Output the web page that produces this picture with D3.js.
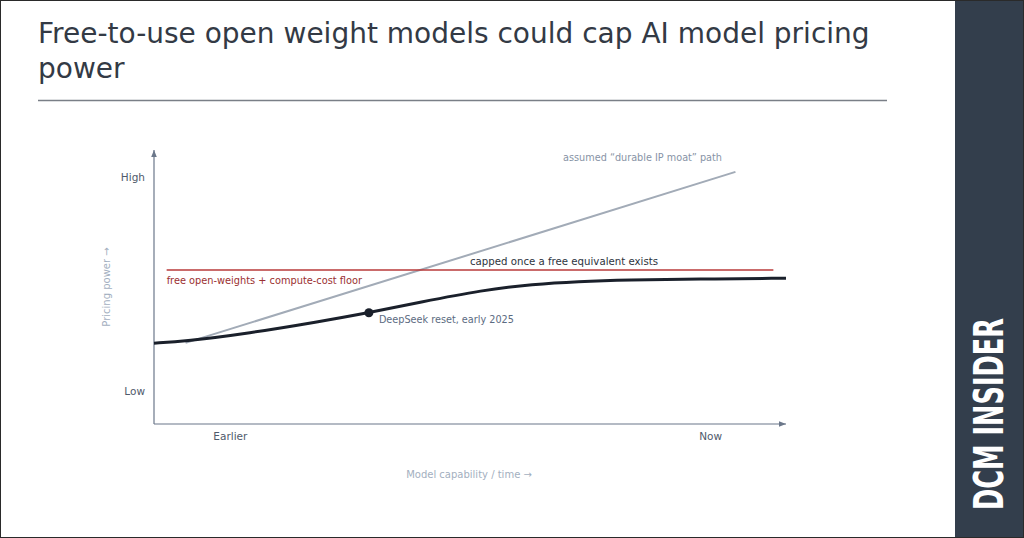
<!DOCTYPE html>
<html>
<head>
<meta charset="utf-8">
<script src="https://cdn.jsdelivr.net/npm/d3@7"></script>
<style>
  html, body { margin: 0; padding: 0; background: #fff; }
  svg { display: block; }
</style>
</head>
<body>
<svg id="chart"></svg>
<script>
var width = 1024;
var height = 538;

// data
var titleLines = ["Free-to-use open weight models could cap AI model pricing", "power"];
var xTickValues = [12, 88];
var xTickLabels = ["Earlier", "Now"];
var yTickValues = [12, 90];
var yTickLabels = ["Low", "High"];

var curveX = [0, 5, 15, 26, 34, 42, 52, 60, 67, 75, 86, 100];
var curveY = [29.5, 30.2, 33.1, 37.3, 40.6, 44.4, 48.9, 51.0, 52.0, 52.6, 52.9, 53.2];
var moatX = [5, 92];
var moatY = [29.6, 92];
var capX = [2, 98];
var capY = [56.2, 56.2];
var resetX = [34];
var resetY = [40.6];

var svg = d3.select("#chart").attr("width", width).attr("height", height);

// frame + side panel
svg.append("rect").attr("x", 0).attr("y", 0).attr("width", width).attr("height", height).attr("fill", "#fff");
svg.append("rect").attr("x", 955).attr("y", 0).attr("width", 69).attr("height", height).attr("fill", "#333e4c");
svg.append("rect").attr("x", 0.5).attr("y", 0.5).attr("width", width - 1).attr("height", height - 1)
    .attr("fill", "none").attr("stroke", "#2a2a2a").attr("stroke-width", 1);

svg.append("text")
    .attr("transform", "translate(1003,414) rotate(-90)")
    .attr("text-anchor", "middle")
    .attr("font-family", "'DejaVu Sans Condensed', 'DejaVu Sans'")
    .attr("font-weight", "bold")
    .attr("font-size", 40)
    .attr("textLength", 192)
    .attr("lengthAdjust", "spacingAndGlyphs")
    .attr("fill", "#fff")
    .text("DCM INSIDER");

// title
svg.selectAll("text.title").data(titleLines).enter().append("text")
    .attr("class", "title")
    .attr("x", 38)
    .attr("y", (d, i) => 43 + i * 35)
    .attr("font-family", "'DejaVu Sans', sans-serif")
    .attr("font-size", 28)
    .attr("fill", "#333a45")
    .text(d => d);

svg.append("line").attr("x1", 38).attr("x2", 887).attr("y1", 100.5).attr("y2", 100.5)
    .attr("stroke", "#7a7f87").attr("stroke-width", 1.5);

//----------------------------------------------------------------------------------------------------------------------
// scales
//----------------------------------------------------------------------------------------------------------------------
var x = d3.scaleLinear().domain([0, 100]).range([154, 786]);
var y = d3.scaleLinear().domain([0, 100]).range([424, 150]);

var axisColor = "#6b778a";
var labelFont = "'DejaVu Sans', sans-serif";

svg.append("defs").append("marker")
    .attr("id", "arrow")
    .attr("viewBox", "0 0 10 10")
    .attr("refX", 10).attr("refY", 5)
    .attr("markerWidth", 7).attr("markerHeight", 7)
    .attr("markerUnits", "userSpaceOnUse")
    .attr("orient", "auto")
    .append("path").attr("d", "M0,1 L10,5 L0,9 Z").attr("fill", axisColor);

// axis lines with arrows
svg.append("line")
    .attr("x1", x(0)).attr("y1", y(0)).attr("x2", x(0)).attr("y2", y(100))
    .attr("stroke", axisColor).attr("stroke-width", 1.2).attr("marker-end", "url(#arrow)");
svg.append("line")
    .attr("x1", x(0)).attr("y1", y(0)).attr("x2", x(100)).attr("y2", y(0))
    .attr("stroke", axisColor).attr("stroke-width", 1.2).attr("marker-end", "url(#arrow)");

var xAxis = d3.axisBottom(x).tickValues(xTickValues).tickSize(0).tickPadding(9)
    .tickFormat((d, i) => xTickLabels[i]);
var yAxis = d3.axisLeft(y).tickValues(yTickValues).tickSize(0).tickPadding(9)
    .tickFormat((d, i) => yTickLabels[i]);

var gx = svg.append("g").attr("transform", "translate(0," + y(0) + ")").call(xAxis);
var gy = svg.append("g").attr("transform", "translate(" + x(0) + ",0)").call(yAxis);
[gx, gy].forEach(g => {
    g.select(".domain").remove();
    g.selectAll("text").attr("font-family", labelFont).attr("font-size", 10.5).attr("fill", "#4f5a6b");
});

svg.append("text")
    .attr("transform", "translate(" + 110 + "," + y(50) + ") rotate(-90)")
    .attr("text-anchor", "middle")
    .attr("font-family", labelFont).attr("font-size", 10).attr("fill", "#a3afc0")
    .text("Pricing power →");
svg.append("text")
    .attr("x", x(50) - 1).attr("y", 478)
    .attr("text-anchor", "middle")
    .attr("font-family", labelFont).attr("font-size", 10).attr("fill", "#a3afc0")
    .text("Model capability / time →");

//----------------------------------------------------------------------------------------------------------------------
// series
//----------------------------------------------------------------------------------------------------------------------
var line = d3.line().x(d => x(d[0])).y(d => y(d[1]));

svg.append("path")
    .datum(d3.zip(moatX, moatY))
    .attr("d", line)
    .attr("fill", "none").attr("stroke", "#a2abb7").attr("stroke-width", 2);

svg.append("path")
    .datum(d3.zip(capX, capY))
    .attr("d", line)
    .attr("fill", "none").attr("stroke", "#b83a3a").attr("stroke-width", 1.5);

svg.append("path")
    .datum(d3.zip(curveX, curveY))
    .attr("d", line.curve(d3.curveBasis))
    .attr("fill", "none").attr("stroke", "#1a202b").attr("stroke-width", 3);

svg.selectAll("circle.reset").data(d3.zip(resetX, resetY)).enter().append("circle")
    .attr("class", "reset")
    .attr("cx", d => x(d[0])).attr("cy", d => y(d[1])).attr("r", 4.5)
    .attr("fill", "#1a202b");

// annotations
svg.append("text")
    .attr("x", x(resetX[0]) + 10).attr("y", y(resetY[0]) + 10)
    .attr("font-family", labelFont).attr("font-size", 9.7).attr("fill", "#5c6b82")
    .text("DeepSeek reset, early 2025");

svg.append("text")
    .attr("x", 722).attr("y", 161)
    .attr("text-anchor", "end")
    .attr("font-family", labelFont).attr("font-size", 9.7).attr("fill", "#8793a6")
    .text("assumed “durable IP moat” path");

svg.append("text")
    .attr("x", 470).attr("y", 265)
    .attr("font-family", labelFont).attr("font-size", 10.2).attr("fill", "#2d3440")
    .text("capped once a free equivalent exists");

svg.append("text")
    .attr("x", x(capX[0])).attr("y", 284)
    .attr("font-family", labelFont).attr("font-size", 9.8).attr("fill", "#9b3030")
    .text("free open-weights + compute-cost floor");
</script>
</body>
</html>
